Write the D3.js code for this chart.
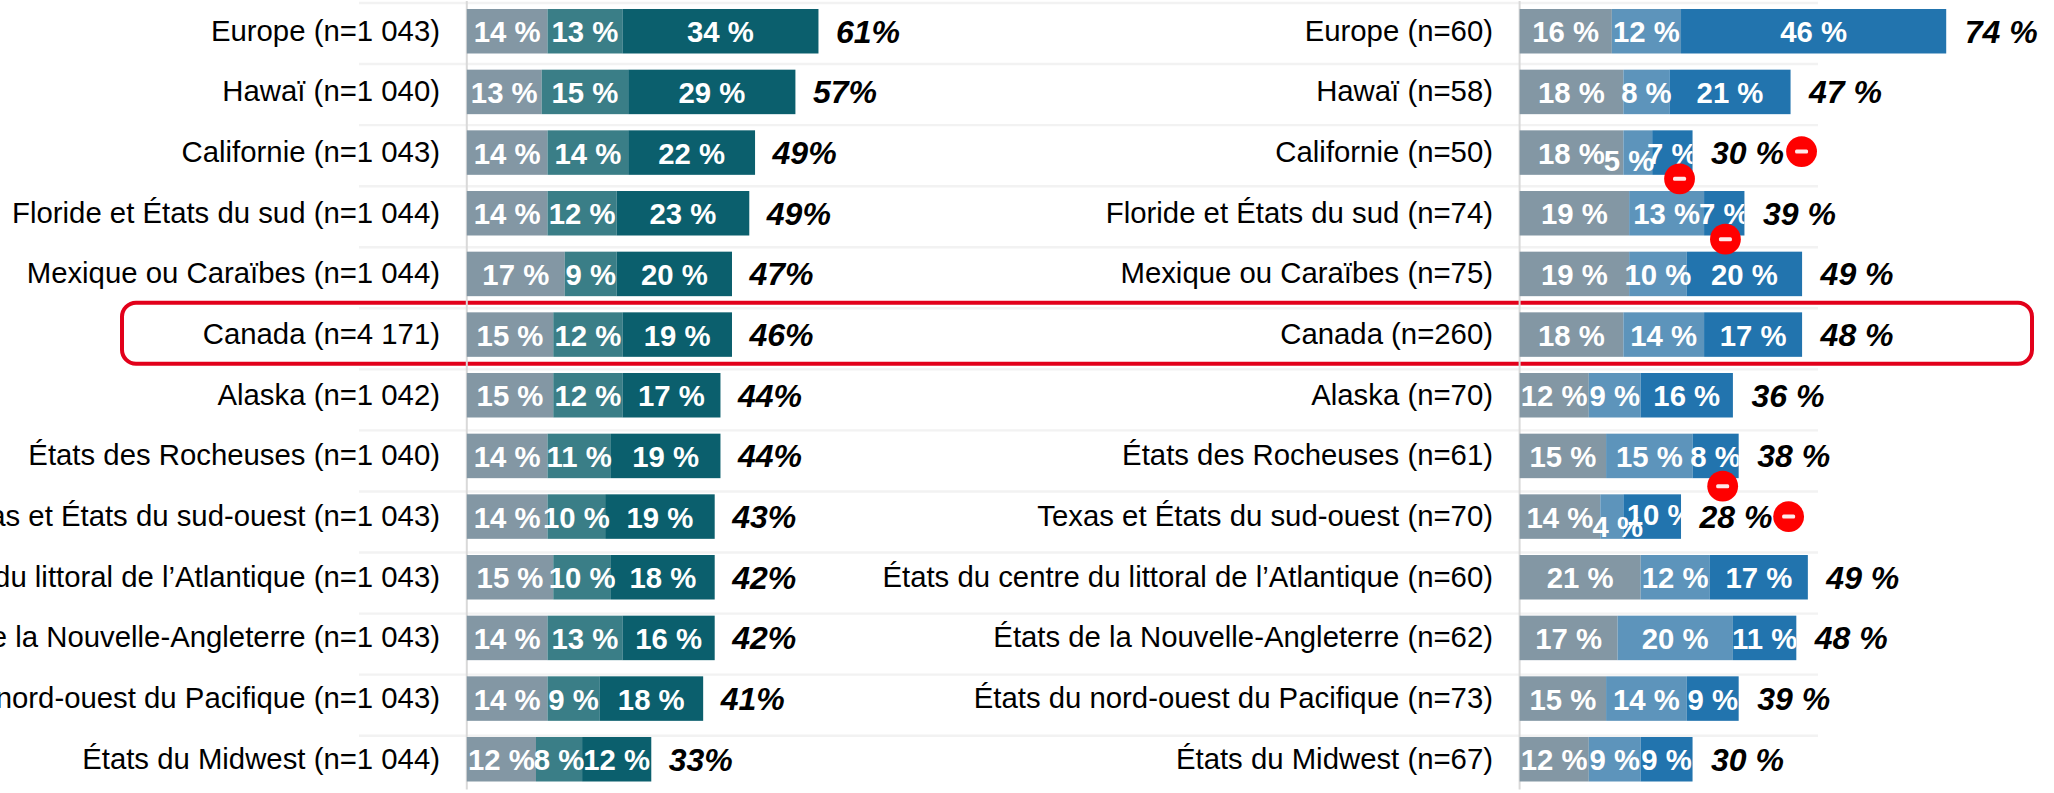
<!DOCTYPE html>
<html lang="fr"><head><meta charset="utf-8">
<script src="https://cdn.jsdelivr.net/npm/d3@7"></script>
<style>html,body{margin:0;padding:0;background:#fff;overflow:hidden}svg{display:block}text{font-family:"Liberation Sans",Arial,sans-serif}</style>
</head><body><svg id="c" width="2054" height="793"></svg>
<script>
const categories=["Europe","Hawaï","Californie","Floride et États du sud","Mexique ou Caraïbes","Canada","Alaska","États des Rocheuses","Texas et États du sud-ouest","États du centre du littoral de l’Atlantique","États de la Nouvelle-Angleterre","États du nord-ouest du Pacifique","États du Midwest"];
const nLeft=["1 043","1 040","1 043","1 044","1 044","4 171","1 042","1 040","1 043","1 043","1 043","1 043","1 044"];
const nRight=["60","58","50","74","75","260","70","61","70","60","62","73","67"];
const leftA=[14,13,14,14,17,15,15,14,14,15,14,14,12];
const leftB=[13,15,14,12,9,12,12,11,10,10,13,9,8];
const leftC=[34,29,22,23,20,19,17,19,19,18,16,18,12];
const leftTotal=[61,57,49,49,47,46,44,44,43,42,42,41,33];
const rightA=[16,18,18,19,19,18,12,15,14,21,17,15,12];
const rightB=[12,8,5,13,10,14,9,15,4,12,20,14,9];
const rightC=[46,21,7,7,20,17,16,8,10,17,11,9,9];
const rightTotal=[74,47,30,39,49,48,36,38,28,49,48,39,30];
const highlight="Canada";

// Layout (kept apart from the data)
const svg=d3.select("#c");
const y=d3.scaleBand().domain(categories).range([9,781.5]).paddingInner(1-44.5/60.67).paddingOuter(0);
const sepY=d3.scaleLinear().domain([0,categories.length-1]).range([3,735.7]);
const PX=5.765;
const xL=d3.scaleLinear().domain([0,100]).range([466.8,466.8+100*PX]);
const xR=d3.scaleLinear().domain([0,100]).range([1519.6,1519.6+100*PX]);
const leftCols=["#8397a4","#3a7e87","#0b5f6d"];
const rightCols=["#8397a4","#5d94bb","#2274ae"];
// Hand-placed labels in the original, keyed by row and segment
const labelNudge={"Californie|1":[-8.7,7],"Texas et États du sud-ouest|1":[6,9],"Texas et États du sud-ouest|2":[8,-3]};
// Red minus flags: on the bar end or after the total
const flags=[["Californie","end",-13,4],["Floride et États du sud","end",-19,3.7],["États des Rocheuses","end",-16,8],["Californie","total",109,-1],["Texas et États du sud-ouest","total",107.6,0]];

// Row separators
svg.append("g").selectAll("line").data(categories).join("line")
 .attr("x1",359).attr("x2",1818).attr("y1",(d,i)=>sepY(i)).attr("y2",(d,i)=>sepY(i))
 .attr("stroke","#f2f2f2").attr("stroke-width",2.4);

// Highlight frame
svg.append("rect").attr("x",122).attr("width",1910)
 .attr("y",y(highlight)-9.6).attr("height",61).attr("rx",14).attr("ry",14)
 .attr("fill","none").attr("stroke","#e2001a").attr("stroke-width",4);

// Baselines
[xL,xR].forEach(x=>svg.append("line").attr("x1",x(0)).attr("x2",x(0)).attr("y1",1).attr("y2",789.5)
 .attr("stroke","#d9d9d9").attr("stroke-width",2));

const defs=svg.append("defs");
function panel(id,x,series,cols,totals,nList,totalFmt,totalGap,axisX){
 const rows=categories.map((c,i)=>({c,i,segs:series.map((s,k)=>({k,v:s[i],x0:d3.sum(series.slice(0,k),q=>q[i])})),sum:d3.sum(series,s=>s[i])}));
 // category axis
 const ax=d3.axisLeft(y).tickSize(0).tickPadding(0).tickFormat((d)=>`${d} (n=${nList[categories.indexOf(d)]})`);
 const g=svg.append("g").attr("transform",`translate(${axisX},0)`).call(ax);
 g.select(".domain").remove();
 g.selectAll("text").attr("font-size",29.33).attr("font-family",'"Liberation Sans"').attr("fill","#000").attr("dy","0.32em");
 // bars
 const row=svg.append("g").selectAll("g").data(rows).join("g");
 row.selectAll("rect").data(r=>r.segs.map(s=>({...s,c:r.c}))).join("rect")
  .attr("x",d=>x(d.x0)).attr("width",d=>x(d.x0+d.v)-x(d.x0)).attr("y",d=>y(d.c)).attr("height",y.bandwidth())
  .attr("fill",d=>cols[d.k]);
 // segment labels, cut at the bar end
 defs.selectAll(null).data(rows).join("clipPath").attr("id",r=>`${id}${r.i}`).append("rect")
  .attr("x",x(0)).attr("width",r=>x(r.sum)-x(0)).attr("y",r=>y(r.c)-4).attr("height",y.bandwidth()+8);
 row.append("g").attr("clip-path",r=>`url(#${id}${r.i})`).selectAll("text").data(r=>r.segs.map(s=>({...s,c:r.c}))).join("text")
  .attr("x",d=>x(d.x0+d.v/2)+(id==="r"&&labelNudge[d.c+"|"+d.k]?labelNudge[d.c+"|"+d.k][0]:0))
  .attr("y",d=>y(d.c)+y.bandwidth()/2+11+(id==="r"&&labelNudge[d.c+"|"+d.k]?labelNudge[d.c+"|"+d.k][1]:0))
  .attr("text-anchor","middle").attr("font-size",29.33).attr("font-weight","bold").attr("fill","#fff")
  .text(d=>`${d.v} %`);
 // totals
 row.append("text").attr("x",r=>x(r.sum)+totalGap).attr("y",r=>y(r.c)+y.bandwidth()/2+11.5)
  .attr("font-size",32).attr("font-weight","bold").attr("font-style","italic").attr("fill","#000")
  .text(r=>totalFmt(totals[r.i]));
 return rows;
}
panel("l",xL,[leftA,leftB,leftC],leftCols,leftTotal,nLeft,v=>`${v}%`,17.5,440);
const rRows=panel("r",xR,[rightA,rightB,rightC],rightCols,rightTotal,nRight,v=>`${v} %`,18.5,1493);

// Red flags
const fg=svg.append("g").selectAll("g").data(flags).join("g").attr("transform",([c,kind,dx,dy])=>{
 const r=rRows[categories.indexOf(c)];
 const yy=kind==="end"?y(c)+y.bandwidth():y(c)+y.bandwidth()/2;
 return `translate(${xR(r.sum)+dx},${yy+dy})`;
});
fg.append("circle").attr("r",15.4).attr("fill","#ff0000");
fg.append("rect").attr("x",-6.5).attr("y",-2).attr("width",13).attr("height",4).attr("rx",1.5).attr("fill","#ffe9e9");
</script></body></html>
